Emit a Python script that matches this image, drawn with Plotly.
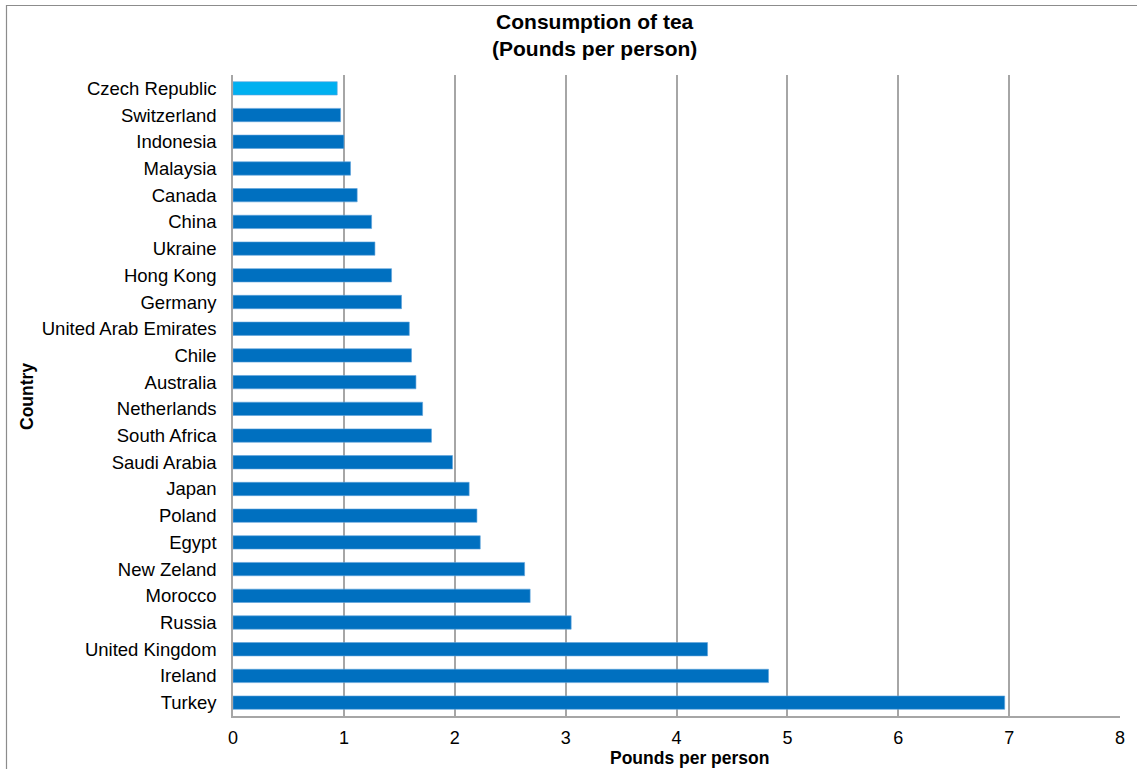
import plotly.graph_objects as go

# Tea consumption per person, listed from top row to bottom row
countries = [
    "Czech Republic", "Switzerland", "Indonesia", "Malaysia", "Canada", "China",
    "Ukraine", "Hong Kong", "Germany", "United Arab Emirates", "Chile", "Australia",
    "Netherlands", "South Africa", "Saudi Arabia", "Japan", "Poland", "Egypt",
    "New Zeland", "Morocco", "Russia", "United Kingdom", "Ireland", "Turkey",
]
pounds = [
    0.94, 0.97, 1.00, 1.06, 1.12, 1.25,
    1.28, 1.43, 1.52, 1.59, 1.61, 1.65,
    1.71, 1.79, 1.98, 2.13, 2.20, 2.23,
    2.63, 2.68, 3.05, 4.28, 4.83, 6.96,
]
x_ticks = [0, 1, 2, 3, 4, 5, 6, 7, 8]

highlight = "Czech Republic"
bar_colors = ["#00B0F0" if c == highlight else "#0070C0" for c in countries]

W, H = 1137, 769
L, R, T, B = 233, 17, 75, 53
plot_w = W - L - R
plot_h = H - T - B


def px_x(px):
    return (px - L) / plot_w


def px_y(py):
    return 1 - (py - T) / plot_h


fig = go.Figure(
    go.Bar(
        x=pounds,
        y=countries,
        orientation="h",
        marker=dict(color=bar_colors, line=dict(color="#5FA3DC", width=0.6)),
        hoverinfo="x+y",
    )
)

font_family = "Liberation Sans, Arial, sans-serif"

fig.update_layout(
    width=W,
    height=H,
    margin=dict(l=L, r=R, t=T, b=B),
    paper_bgcolor="white",
    plot_bgcolor="white",
    bargap=0.5,
    showlegend=False,
    font=dict(family=font_family, size=18, color="#000000"),
    xaxis=dict(
        range=[0, 8],
        tickvals=x_ticks,
        ticktext=[str(v) for v in x_ticks],
        showgrid=True,
        gridcolor="#A6A6A6",
        gridwidth=1.5,
        zeroline=False,
        showline=True,
        linecolor="#A6A6A6",
        linewidth=1.5,
        ticks="",
        ticklabelstandoff=5,
        tickfont=dict(size=18, family=font_family),
        fixedrange=True,
    ),
    yaxis=dict(
        categoryorder="array",
        categoryarray=countries,
        autorange="reversed",
        showgrid=False,
        zeroline=False,
        showline=True,
        linecolor="#A6A6A6",
        linewidth=1.5,
        ticks="",
        ticklabelstandoff=11,
        tickfont=dict(size=18.5, family=font_family),
        fixedrange=True,
    ),
    annotations=[
        dict(
            text="<b>Consumption of tea<br>(Pounds per person)</b>",
            x=px_x(594), y=px_y(35),
            xref="paper", yref="paper",
            xanchor="center", yanchor="middle",
            showarrow=False,
            font=dict(size=21, family=font_family),
        ),
        dict(
            text="<b>Pounds per person</b>",
            x=px_x(689), y=px_y(758),
            xref="paper", yref="paper",
            xanchor="center", yanchor="middle",
            showarrow=False,
            font=dict(size=17.5, family=font_family),
        ),
        dict(
            text="<b>Country</b>",
            x=px_x(27), y=px_y(397),
            xref="paper", yref="paper",
            xanchor="center", yanchor="middle",
            textangle=-90,
            showarrow=False,
            font=dict(size=17.5, family=font_family),
        ),
    ],
    shapes=[
        # outer chart frame
        dict(
            type="rect",
            xref="paper", yref="paper",
            x0=px_x(6.5), x1=px_x(1160),
            y0=px_y(800), y1=px_y(5.5),
            line=dict(color="#8C8C8C", width=1.2),
            fillcolor="rgba(0,0,0,0)",
            layer="below",
        )
    ],
)

fig.write_html("out.html")
